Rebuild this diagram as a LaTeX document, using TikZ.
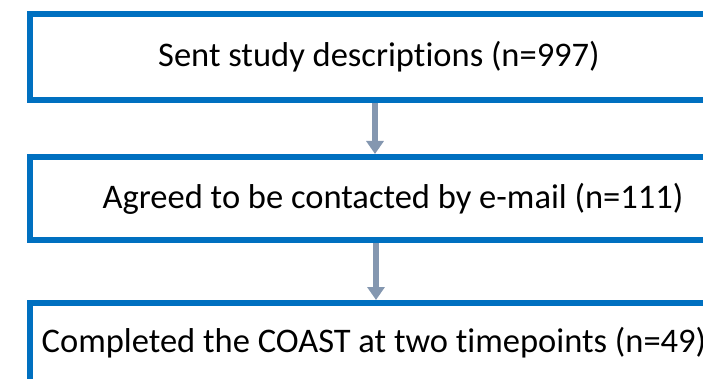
\documentclass[tikz,border=0pt]{standalone}
\usepackage{fontspec}
\setmainfont[Ligatures={NoCommon}]{Carlito}
\usetikzlibrary{arrows.meta}
\usetikzlibrary{calc}
\definecolor{boxblue}{RGB}{0,112,192}
\definecolor{arrowgray}{RGB}{132,151,176}
\tikzset{flowbox/.style={draw=boxblue, line width=6pt, rectangle, inner sep=0pt,
    font=\fontsize{34.5}{40}\selectfont}}
\tikzset{flowarrow/.style={draw=arrowgray, line width=6pt,
    -{Triangle[width=17pt, length=13pt]}}}

\begin{document}
\begin{tikzpicture}[x=1pt, y=-1pt]
            \useasboundingbox (0,0) rectangle (703,379);
            \clip (0,0) rectangle (703,379);
            \node[flowbox, minimum width=698pt, minimum height=86pt] (sent) at (379,57) {Sent study descriptions (n=997)};
            \node[flowbox, minimum width=726pt, minimum height=83pt] (agreed) at (393,198.5) {Agreed to be contacted by e-mail (n=111)};
            \node[flowbox, minimum width=688pt, minimum height=80pt] (completed) at (374,343) {Completed the COAST at two timepoints (n=49)};
            \draw[flowarrow] ([xshift=-4pt]sent.south) -- ([xshift=-4pt]sent.south |- agreed.north);
            \draw[flowarrow] ([xshift=-17pt]agreed.south) -- ([xshift=-17pt]agreed.south |- completed.north);
        \end{tikzpicture}
\end{document}
